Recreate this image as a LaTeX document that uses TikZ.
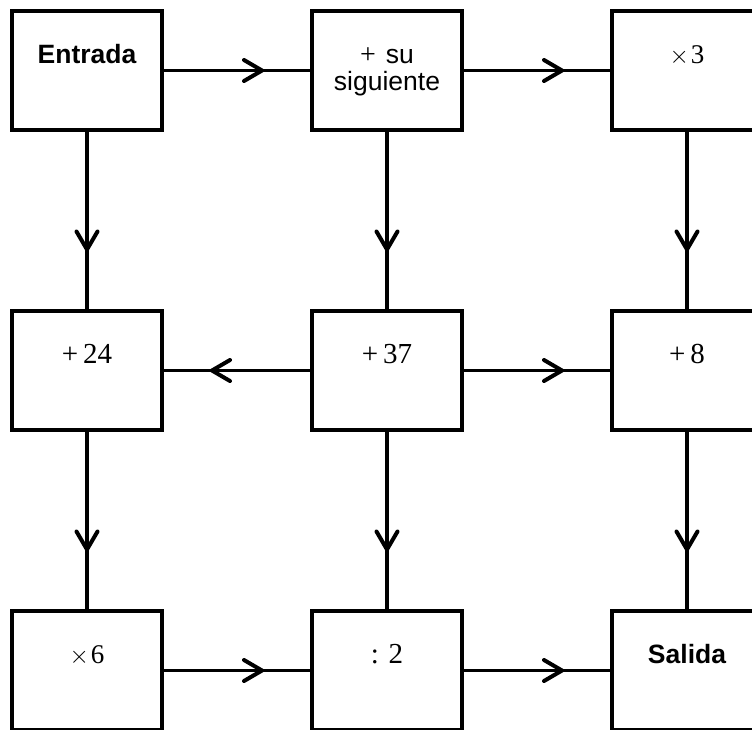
\documentclass[tikz,border=0pt]{standalone}
\usepackage{fontspec}
\setmainfont{Liberation Sans}
\newfontfamily\numfont{Liberation Serif}
\usetikzlibrary{decorations.markings}

\begin{document}
\begin{tikzpicture}[x=1pt,y=-1pt,
  stage/.style={draw, line width=4pt, inner sep=0pt, outer sep=0pt,
    text width=150pt, minimum width=150pt, align=center,
    text height=52pt, text depth=67pt},
  sanstext/.style={font=\fontsize{26.5}{27}\selectfont},
  bignum/.style={font=\numfont\fontsize{29}{30}\selectfont},
  smallnum/.style={font=\numfont\fontsize{27}{28}\selectfont},
  flow/.style={line width=3.5pt, postaction={decorate},
    decoration={markings, mark=at position 0.5 with
      {\draw[line width=4pt, line cap=round, line join=miter]
        (#1-18pt,10.5pt) -- (#1,0pt) -- (#1-18pt,-10.5pt);}}},
  hflow/.style={flow=25pt},
  vflow/.style={flow=29pt}]
\useasboundingbox (0,0) rectangle (752,729);
\clip (0,0) rectangle (752,729);

% row 1
\node[stage, sanstext] (entrada) at (87,70.5) {\bfseries Entrada};
\node[stage, sanstext] (sig) at (387,70.5) {{\numfont\fontsize{28}{27}\selectfont +}\hspace{10pt}su\\siguiente};
\node[stage, smallnum] (tres) at (687,70.5) {\(\times\)\hspace{2pt}3};
% row 2
\node[stage, bignum] (m24) at (87,370.5) {+\,24};
\node[stage, bignum] (m37) at (387,370.5) {+\,37};
\node[stage, bignum] (m8) at (687,370.5) {+\,8};
% row 3
\node[stage, smallnum] (x6) at (87,670.5) {\(\times\)\hspace{2pt}6};
\node[stage, bignum] (div2) at (387,670.5) {:~2};
\node[stage, sanstext] (salida) at (687,670.5) {\bfseries Salida};

% horizontal links
\draw[hflow] (entrada) -- (sig);
\draw[hflow] (sig) -- (tres);
\draw[hflow] (m37) -- (m24);
\draw[hflow] (m37) -- (m8);
\draw[hflow] (x6) -- (div2);
\draw[hflow] (div2) -- (salida);

% vertical links
\draw[vflow] (entrada) -- (m24);
\draw[vflow] (sig) -- (m37);
\draw[vflow] (tres) -- (m8);
\draw[vflow] (m24) -- (x6);
\draw[vflow] (m37) -- (div2);
\draw[vflow] (m8) -- (salida);
\end{tikzpicture}
\end{document}
